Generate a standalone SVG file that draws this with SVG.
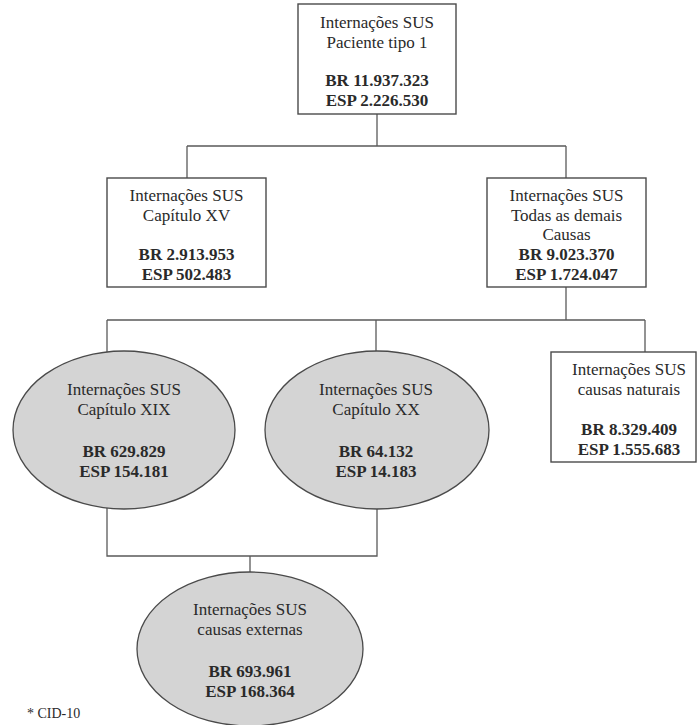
<svg xmlns="http://www.w3.org/2000/svg" width="697" height="725" viewBox="0 0 697 725">
<style>
.box{fill:#fff;stroke:#4a4a4a;stroke-width:1.4}
.ell{fill:#d4d4d4;stroke:#4a4a4a;stroke-width:1.3}
.ln{fill:none;stroke:#5a5a5a;stroke-width:1.3}
text{font-family:"Liberation Serif","Times New Roman",serif;font-size:17px;fill:#2a2a2a;text-anchor:middle}
.b{font-weight:bold}
.note{font-size:14px;text-anchor:start}
</style>
<rect width="697" height="725" fill="#fff"/>
<g id="connectors">
<path class="ln" d="M377 114V146M187 146H566M187 146V178M566 146V178"/>
<path class="ln" d="M566 287V320M107 320H645M107 320V352M376 320V351M645 320V352"/>
<path class="ln" d="M107 508V556H377V509M250 556V572"/>
</g>
<g id="n1">
<rect class="box" x="298" y="4" width="158" height="110"/>
<text x="377" y="28">Internações SUS</text>
<text x="377" y="48">Paciente tipo 1</text>
<text class="b" x="377" y="86">BR 11.937.323</text>
<text class="b" x="377" y="106">ESP 2.226.530</text>
</g>
<g id="n2">
<rect class="box" x="107" y="178" width="159" height="109"/>
<text x="186.5" y="201">Internações SUS</text>
<text x="186.5" y="221">Capítulo XV</text>
<text class="b" x="186.5" y="260">BR 2.913.953</text>
<text class="b" x="186.5" y="280">ESP 502.483</text>
</g>
<g id="n3">
<rect class="box" x="487" y="178" width="159" height="109"/>
<text x="566.5" y="201">Internações SUS</text>
<text x="566.5" y="221">Todas as demais</text>
<text x="566.5" y="240">Causas</text>
<text class="b" x="566.5" y="260">BR 9.023.370</text>
<text class="b" x="566.5" y="280">ESP 1.724.047</text>
</g>
<g id="n4">
<ellipse class="ell" cx="124" cy="430" rx="111" ry="79"/>
<text x="124" y="395">Internações SUS</text>
<text x="124" y="415">Capítulo XIX</text>
<text class="b" x="124" y="457">BR 629.829</text>
<text class="b" x="124" y="477">ESP 154.181</text>
</g>
<g id="n5">
<ellipse class="ell" cx="377" cy="430" rx="112" ry="79"/>
<text x="376" y="395">Internações SUS</text>
<text x="376" y="415">Capítulo XX</text>
<text class="b" x="376" y="457">BR 64.132</text>
<text class="b" x="376" y="477">ESP 14.183</text>
</g>
<g id="n6">
<rect class="box" x="551" y="352" width="145" height="110"/>
<text x="629" y="375">Internações SUS</text>
<text x="629" y="395">causas naturais</text>
<text class="b" x="629" y="435">BR 8.329.409</text>
<text class="b" x="629" y="455">ESP 1.555.683</text>
</g>
<g id="n7">
<ellipse class="ell" cx="250" cy="649" rx="113" ry="77"/>
<text x="250" y="615">Internações SUS</text>
<text x="250" y="635">causas externas</text>
<text class="b" x="250" y="677">BR 693.961</text>
<text class="b" x="250" y="697">ESP 168.364</text>
</g>
<text class="note" x="27" y="718">* CID-10</text>
</svg>
